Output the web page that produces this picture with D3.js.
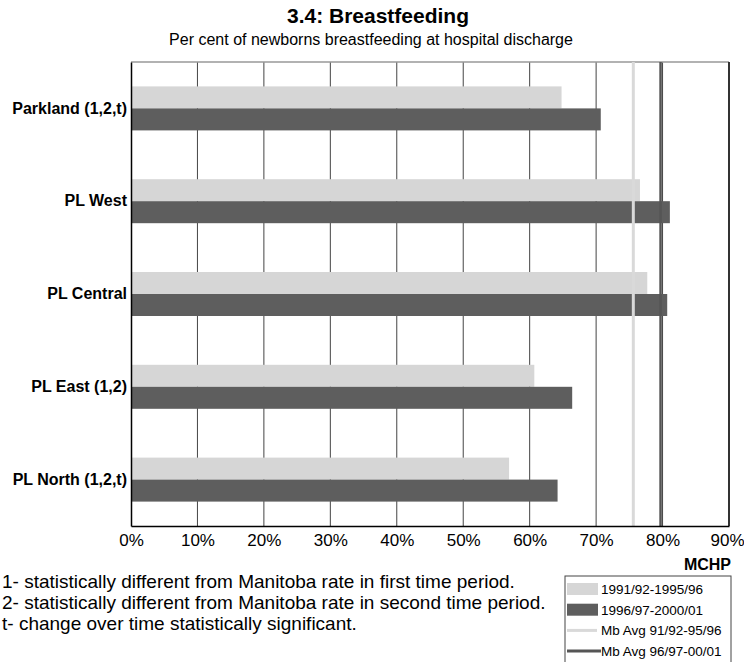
<!DOCTYPE html>
<html>
<head>
<meta charset="utf-8">
<script src="https://cdn.jsdelivr.net/npm/d3@7"></script>
<style>
  body { margin: 0; background: #fff; }
  svg { font-family: "Liberation Sans", Arial, sans-serif; }
</style>
</head>
<body>
<div id="chart"></div>
<script>
// data
let regions = ["Parkland (1,2,t)", "PL West", "PL Central", "PL East (1,2)", "PL North (1,2,t)"];
let periods = ["1991/92-1995/96", "1996/97-2000/01"];
let rate_first = [0.648, 0.766, 0.777, 0.607, 0.569];
let rate_second = [0.707, 0.811, 0.807, 0.664, 0.642];
let mb_avg_labels = ["Mb Avg 91/92-95/96", "Mb Avg 96/97-00/01"];
let mb_avg = [0.756, 0.797];
let x_ticks = [0, 0.1, 0.2, 0.3, 0.4, 0.5, 0.6, 0.7, 0.8, 0.9];
let footnotes = [
    "1- statistically different from Manitoba rate in first time period.",
    "2- statistically different from Manitoba rate in second time period.",
    "t- change over time statistically significant."
];

let bar_colors = ["#d6d6d6", "#5e5e5e"];
let avg_colors = ["#d9d9d9", "#555"];

let width = 744, height = 662;
let plot = { left: 131, right: 729, top: 62, bottom: 526 };

let svg = d3.select("#chart")
    .append("svg")
    .attr("width", width)
    .attr("height", height);

// titles
svg.append("text")
    .attr("x", 378).attr("y", 23)
    .attr("text-anchor", "middle")
    .style("font-size", "21px").style("font-weight", "bold")
    .text("3.4: Breastfeeding");

svg.append("text")
    .attr("x", 371).attr("y", 45)
    .attr("text-anchor", "middle")
    .style("font-size", "16px")
    .text("Per cent of newborns breastfeeding at hospital discharge");

let x = d3.scaleLinear()
    .domain([0, 0.9])
    .range([plot.left, plot.right]);

let y = d3.scaleBand()
    .domain(regions)
    .range([plot.top, plot.bottom]);

let y1 = d3.scaleBand()
    .domain(periods)
    .range([y.bandwidth() / 2 - 22, y.bandwidth() / 2 + 22]);

// gridlines
svg.append("g")
    .selectAll("line")
    .data(x_ticks.slice(1, -1))
    .enter()
    .append("line")
    .attr("x1", function (d) { return x(d); })
    .attr("x2", function (d) { return x(d); })
    .attr("y1", plot.top)
    .attr("y2", plot.bottom)
    .attr("stroke", "#444")
    .attr("stroke-width", 1);

// plot frame: top gray, right dark
svg.append("line")
    .attr("x1", plot.left).attr("x2", plot.right)
    .attr("y1", plot.top).attr("y2", plot.top)
    .attr("stroke", "#999").attr("stroke-width", 1.5);
svg.append("line")
    .attr("x1", x(0.9)).attr("x2", x(0.9))
    .attr("y1", plot.top).attr("y2", plot.bottom)
    .attr("stroke", "#333").attr("stroke-width", 2);

// bars
let rows = regions.map(function (r, i) {
    return { region: r, values: [rate_first[i], rate_second[i]] };
});

let groups = svg.append("g")
    .selectAll("g")
    .data(rows)
    .enter()
    .append("g")
    .attr("transform", function (d) { return "translate(0," + y(d.region) + ")"; });

groups.selectAll("rect")
    .data(function (d) { return d.values.map(function (v, i) { return { period: periods[i], value: v, i: i }; }); })
    .enter()
    .append("rect")
    .attr("x", x(0))
    .attr("y", function (d) { return y1(d.period); })
    .attr("width", function (d) { return x(d.value) - x(0); })
    .attr("height", y1.bandwidth())
    .attr("fill", function (d) { return bar_colors[d.i]; });

// Manitoba average lines
svg.append("g")
    .selectAll("line")
    .data(mb_avg)
    .enter()
    .append("line")
    .attr("x1", function (d) { return x(d); })
    .attr("x2", function (d) { return x(d); })
    .attr("y1", plot.top)
    .attr("y2", plot.bottom)
    .attr("stroke", function (d, i) { return avg_colors[i]; })
    .attr("stroke-width", function (d, i) { return i == 0 ? 3 : 2.5; });

// x axis
let xAxis = svg.append("g")
    .attr("transform", "translate(0," + plot.bottom + ")")
    .call(d3.axisBottom(x).tickValues(x_ticks).tickFormat(d3.format(".0%")).tickSize(0).tickPadding(8));
xAxis.select(".domain").attr("stroke", "#000").attr("stroke-width", 1.5);
xAxis.selectAll("text")
    .style("font-size", "17px")
    .style("font-family", "Liberation Sans, Arial, sans-serif")
    .attr("fill", "#000");
xAxis.selectAll(".tick:last-of-type text").attr("text-anchor", "end").attr("dx", "15px");

// y axis
let yAxis = svg.append("g")
    .attr("transform", "translate(" + plot.left + ",0)")
    .call(d3.axisLeft(y).tickSize(0).tickPadding(4));
yAxis.select(".domain").attr("stroke", "#000").attr("stroke-width", 1.5);
yAxis.selectAll("text")
    .style("font-size", "16px")
    .style("font-weight", "bold")
    .style("font-family", "Liberation Sans, Arial, sans-serif")
    .attr("fill", "#000");

// footnotes
svg.append("g")
    .selectAll("text")
    .data(footnotes)
    .enter()
    .append("text")
    .attr("x", 2)
    .attr("y", function (d, i) { return 588 + i * 21; })
    .style("font-size", "19px")
    .text(function (d) { return d; });

// MCHP
svg.append("text")
    .attr("x", 731).attr("y", 570)
    .attr("text-anchor", "end")
    .style("font-size", "16px").style("font-weight", "bold")
    .text("MCHP");

// legend
let legend = svg.append("g");
legend.append("rect")
    .attr("x", 565).attr("y", 576)
    .attr("width", 166).attr("height", 90)
    .attr("fill", "#fff").attr("stroke", "#444").attr("stroke-width", 1);

let legend_items = periods.concat(mb_avg_labels);
let item = legend.selectAll(".item")
    .data(legend_items)
    .enter()
    .append("g")
    .attr("class", "item")
    .attr("transform", function (d, i) { return "translate(0," + (589 + i * 20.7) + ")"; });

item.filter(function (d, i) { return i < 2; })
    .append("rect")
    .attr("x", 567).attr("y", -6)
    .attr("width", 31).attr("height", 12)
    .attr("fill", function (d, i) { return bar_colors[i]; });

item.filter(function (d, i) { return i >= 2; })
    .append("line")
    .attr("x1", 567).attr("x2", function (d, i) { return i == 1 ? 601 : 597; })
    .attr("y1", 0).attr("y2", 0)
    .attr("stroke", function (d, i) { return avg_colors[i]; })
    .attr("stroke-width", 3);

item.append("text")
    .attr("x", 601).attr("y", 5)
    .style("font-size", "13.5px")
    .text(function (d) { return d; });
</script>
</body>
</html>
